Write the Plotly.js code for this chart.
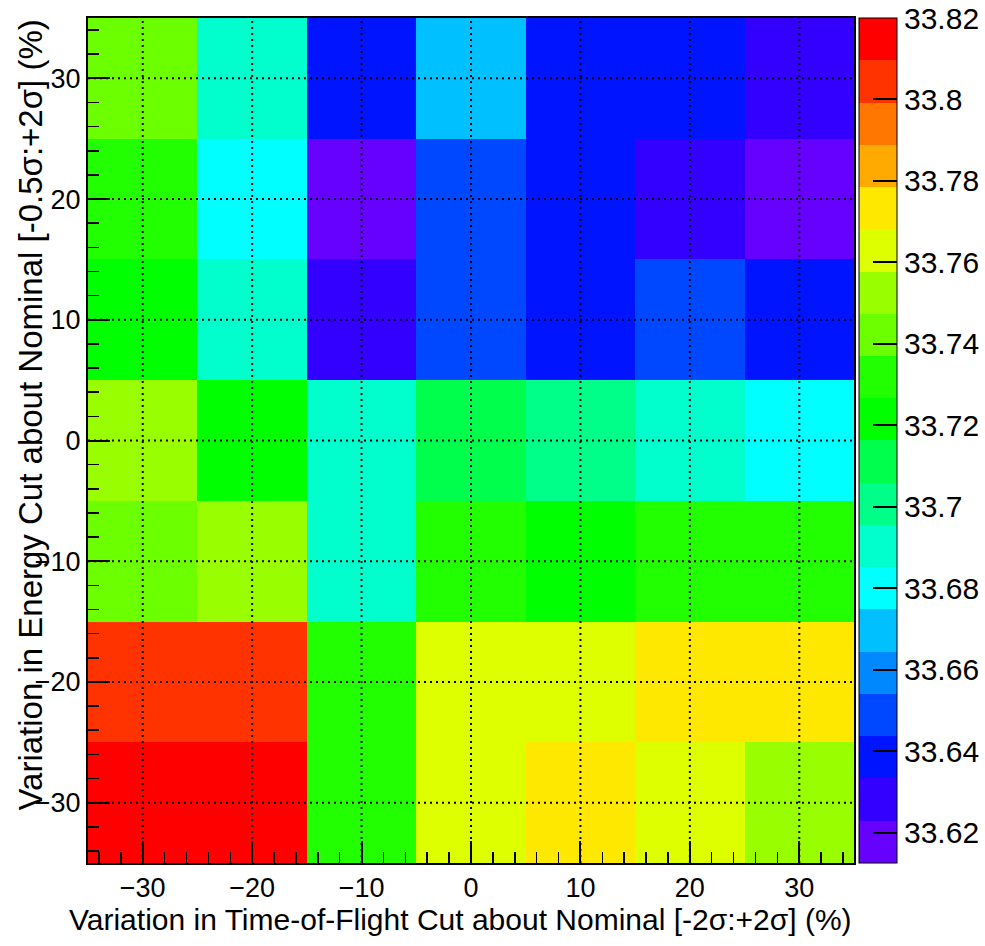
<!DOCTYPE html>
<html>
<head>
<meta charset="utf-8">
<script src="https://cdn.plot.ly/plotly-3.0.1.min.js"></script>
<style>
  html, body { margin: 0; padding: 0; background: #ffffff; }
  #chart { width: 985px; height: 946px; }
</style>
</head>
<body>
<div id="chart"></div>
<script>
// Bin centres (percent variation)
const xBins = [-30, -20, -10, 0, 10, 20, 30];   // Time-of-Flight cut variation
const yBins = [-30, -20, -10, 0, 10, 20, 30];   // Energy cut variation

// z values, one row per y bin (bottom row first)
const zRowM30 = [33.8200, 33.8160, 33.7320, 33.7620, 33.7735, 33.7635, 33.7520];
const zRowM20 = [33.8050, 33.8040, 33.7310, 33.7625, 33.7640, 33.7730, 33.7740];
const zRowM10 = [33.7415, 33.7530, 33.6905, 33.7315, 33.7225, 33.7322, 33.7330];
const zRow0   = [33.7540, 33.7220, 33.6910, 33.7105, 33.7015, 33.6895, 33.6795];
const zRowP10 = [33.7205, 33.6898, 33.6290, 33.6495, 33.6388, 33.6502, 33.6402];
const zRowP20 = [33.7310, 33.6815, 33.6130, 33.6480, 33.6398, 33.6275, 33.6185];
const zRowP30 = [33.7435, 33.6920, 33.6395, 33.6710, 33.6380, 33.6372, 33.6290];

// Axis ticks
const axisTicks = [-30, -20, -10, 0, 10, 20, 30];
const zTickVals = [33.62, 33.64, 33.66, 33.68, 33.70, 33.72, 33.74, 33.76, 33.78, 33.80, 33.82];
const zTickText = ['33.62', '33.64', '33.66', '33.68', '33.7', '33.72', '33.74', '33.76', '33.78', '33.8', '33.82'];
const zMin = 33.6126;
const zMax = 33.82;

// 20-level palette (bottom to top)
const palette = ['#6600ff', '#3300ff', '#0014ff', '#0048ff', '#0088ff', '#00c0ff', '#00ffff', '#00ffcc',
                 '#00ff88', '#00ff4c', '#00ff00', '#22ff00', '#6cff00', '#99ff00', '#ddff00', '#ffe800',
                 '#ffaa00', '#ff7700', '#ff3300', '#ff0000'];

const colorscale = [];
palette.forEach((c, i) => {
  colorscale.push([i / palette.length, c]);
  colorscale.push([(i + 1) / palette.length, c]);
});

const z = [zRowM30, zRowM20, zRowM10, zRow0, zRowP10, zRowP20, zRowP30];

const FONT = "'Liberation Sans', Arial, Helvetica, sans-serif";

const trace = {
  type: 'heatmap',
  x: xBins,
  y: yBins,
  z: z,
  zmin: zMin,
  zmax: zMax,
  colorscale: colorscale,
  xgap: 0, ygap: 0,
  colorbar: {
    x: 1.0065, xanchor: 'left', xpad: 0,
    y: 0.5, yanchor: 'middle', ypad: 0,
    len: 1, lenmode: 'fraction',
    thickness: 38, thicknessmode: 'pixels',
    outlinewidth: 1, outlinecolor: '#000000',
    tickmode: 'array', tickvals: zTickVals, ticktext: zTickText,
    ticks: 'inside', ticklen: 24, tickwidth: 2, tickcolor: '#000000',
    tickfont: { family: FONT, size: 30, color: '#000000' }
  }
};

// dotted grid lines built from the tick arrays, drawn above the heatmap
const shapes = [];
axisTicks.forEach(v => {
  shapes.push({ type: 'line', layer: 'above', xref: 'x', yref: 'paper', x0: v, x1: v, y0: 0, y1: 1,
                line: { color: '#000000', width: 2, dash: '2px,4px' } });
  shapes.push({ type: 'line', layer: 'above', xref: 'paper', yref: 'y', x0: 0, x1: 1, y0: v, y1: v,
                line: { color: '#000000', width: 2, dash: '2px,4px' } });
});

const axisCommon = {
  range: [-35, 35],
  tickmode: 'array',
  tickvals: axisTicks,
  ticktext: axisTicks.map(v => v < 0 ? '\u2212' + Math.abs(v) : String(v)),
  ticks: 'inside', ticklen: 22, tickwidth: 2, tickcolor: '#000000',
  minor: { dtick: 2, tick0: 0, ticks: 'inside', ticklen: 11, tickwidth: 1.5, tickcolor: '#000000', showgrid: false },
  showgrid: false, zeroline: false,
  showline: true, linecolor: '#000000', linewidth: 2, mirror: true,
  layer: 'above traces',
  tickfont: { family: FONT, size: 27, color: '#000000' },
  fixedrange: true
};

const layout = {
  width: 985, height: 946,
  margin: { l: 88, r: 131, t: 18, b: 83, pad: 0, autoexpand: false },
  paper_bgcolor: '#ffffff', plot_bgcolor: '#ffffff',
  font: { family: FONT, color: '#000000' },
  xaxis: Object.assign({}, axisCommon, { title: { text: '' }, automargin: false }),
  yaxis: Object.assign({}, axisCommon, { title: { text: '' }, automargin: false }),
  shapes: shapes,
  annotations: [
    { text: 'Variation in Time-of-Flight Cut about Nominal [-2\u03c3:+2\u03c3] (%)',
      xref: 'paper', yref: 'paper', x: 1, y: 0, xanchor: 'right', yanchor: 'top',
      yshift: -38, showarrow: false, font: { family: FONT, size: 30, color: '#000000' } },
    { text: 'Variation in Energy Cut about Nominal [-0.5\u03c3:+2\u03c3] (%)',
      xref: 'paper', yref: 'paper', x: 0, y: 1, xanchor: 'center', yanchor: 'top',
      xshift: -58, textangle: -90, showarrow: false, font: { family: FONT, size: 33, color: '#000000' } }
  ],
  showlegend: false
};

Plotly.newPlot('chart', [trace], layout, { staticPlot: true, displayModeBar: false });
</script>
</body>
</html>
